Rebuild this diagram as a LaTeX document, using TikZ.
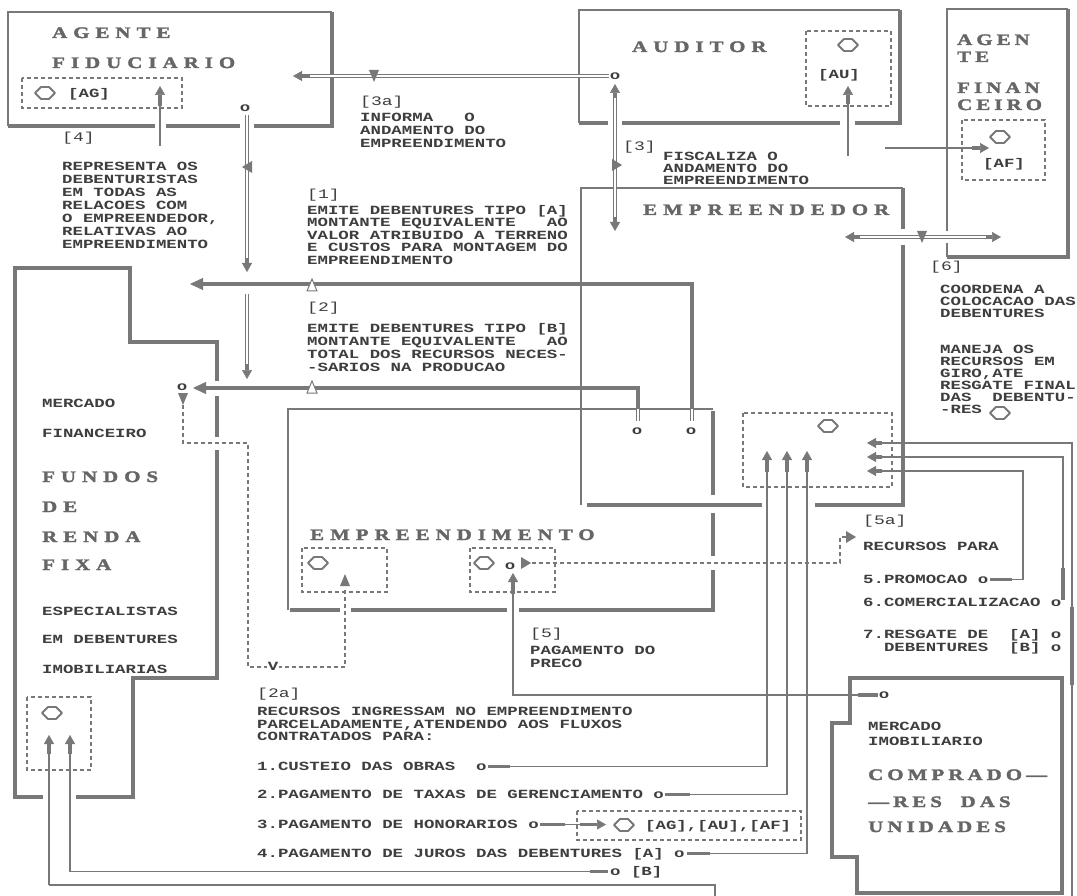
\documentclass[tikz,border=0pt]{standalone}
\usepackage{fontspec}
\usetikzlibrary{arrows.meta}
\newfontfamily\dosfam[FakeStretch=1.39]{Liberation Mono}
\newfontfamily\ttlfam[FakeStretch=1.3,LetterSpace=38,FakeBold=2.2]{Liberation Serif}
\newfontfamily\ttlnar[FakeStretch=1.3,LetterSpace=26,FakeBold=2.2]{Liberation Serif}
\definecolor{lc}{HTML}{787878}
\definecolor{tc}{HTML}{3E3E3E}
\definecolor{hc}{HTML}{666666}
\newcommand\dosb{\dosfam\bfseries\fontsize{12.5pt}{12.5pt}\selectfont}
\newcommand\dosk[1]{\dosfam\bfseries\fontsize{12.5pt}{#1}\selectfont}
\newcommand\dosr{\dosfam\fontsize{13pt}{13pt}\selectfont}
\newcommand\ttlf{\ttlfam\bfseries\fontsize{16pt}{16pt}\selectfont}
\newcommand\ttln{\ttlnar\bfseries\fontsize{16pt}{16pt}\selectfont}
\tikzset{
  dia/.pic={\draw[draw=lc,line width=1.9pt,line join=round] (-10,0)--(-4,-6)--(4,-6)--(10,0)--(4,6)--(-4,6)--cycle;},
  mdown/.pic={\fill[lc] (-5,-6)--(5,-6)--(0,6)--cycle;},
  mleft/.pic={\fill[lc] (-5,0)--(5,-6)--(5,6)--cycle;},
  mright/.pic={\fill[lc] (5,0)--(-5,-6)--(-5,6)--cycle;},
  mup/.pic={\fill[lc] (-5,6)--(5,6)--(0,-6)--cycle;},
  mhol/.pic={\filldraw[fill=white,draw=lc,line width=1pt] (-5,6)--(5,6)--(0,-6)--cycle;},
}
\begin{document}
\begin{tikzpicture}[x=1pt,y=-1pt,
  frame/.style={draw=lc,line width=1.6pt},
  heavy/.style={draw=lc,line width=4pt},
  wire/.style={draw=lc,line width=1.1pt},
  bar/.style={draw=lc,line width=4.5pt,-{Triangle[length=13pt,width=12pt,line width=0.5pt]}},
  dbl/.style={draw=lc,line width=1.4pt,double=white,double distance=1.6pt},
  dsh/.style={draw=lc,line width=1.1pt,dash pattern=on 4pt off 3pt},
  stub/.style={draw=lc,line width=3.5pt,-{Triangle[length=9pt,width=10pt,line width=0.5pt]}},
  stubn/.style={draw=lc,line width=3.5pt},
  txt/.style={font=\dosb,text=tc,inner sep=0pt,anchor=base west},
  lbl/.style={font=\dosr,text=tc,inner sep=0pt,anchor=base west},
  ttl/.style={font=\ttlf,text=hc,inner sep=0pt,anchor=base west},
  ttlnarrow/.style={font=\ttln,text=hc,inner sep=0pt,anchor=base west},
  blk/.style={font=\dosk{#1},text=tc,inner sep=0pt,anchor=north west,align=left},
  blk/.default=12.5pt,
  oknob/.style={font=\dosb,text=tc,inner sep=0pt,anchor=center},
]
\fill[white] (0,0) rectangle (1077,896);
\useasboundingbox (0,0) rectangle (1077,896);

%% AGENTE FIDUCIARIO
\draw[frame] (8,126)--(8,12)--(332,12);
\draw[heavy] (332,12)--(332,128);
\draw[heavy] (8,126)--(155,126) (166,126)--(240,126) (254,126)--(334,126);
\node[ttl] (tAG1) at (52,38) {AGENTE};
\node[ttl] (tAG2) at (52,68) {FIDUCIARIO};
\draw[dsh] (22,78) rectangle (182,108);
\pic at (45,93) {dia};
\node[txt] (lAG) at (68,98) {[AG]};

%% AUDITOR
\draw[frame] (579,123)--(579,10)--(900,10);
\draw[heavy] (900,10)--(900,125);
\draw[heavy] (579,123)--(608,123) (622,123)--(840,123) (855,123)--(902,123);
\node[ttl] (tAU) at (632,52) {AUDITOR};
\draw[dsh] (806,31) rectangle (891,106);
\pic at (848,45) {dia};
\node[txt] (lAU) at (818,79) {[AU]};

%% AGENTE FINANCEIRO
\draw[frame] (947,231)--(947,9)--(1068,9);
\draw[frame] (947,243)--(947,257);
\draw[heavy] (1068,9)--(1068,259);
\draw[heavy] (947,257)--(1070,257);
\node[ttlnarrow] (tAF1) at (957,45) {AGEN};
\node[ttlnarrow] (tAF2) at (957,62) {TE};
\node[ttlnarrow] (tAF3) at (957,93) {FINAN};
\node[ttlnarrow] (tAF4) at (957,110) {CEIRO};
\draw[dsh] (962,120) rectangle (1045,180);
\pic at (1000,137) {dia};
\node[txt] (lAF) at (983,168) {[AF]};

%% EMPREENDEDOR
\draw[frame] (581,505)--(581,188)--(903,188);
\draw[heavy] (903,188)--(903,229) (903,245)--(903,507);
\draw[heavy] (905,505)--(815,505) (762,505)--(587,505);
\node[ttl] (tED) at (643,215) {EMPREENDEDOR};
\draw[dsh] (743,413) rectangle (892,487);
\pic at (828,426) {dia};

%% EMPREENDIMENTO
\draw[frame] (288,610)--(288,409)--(713,409);
\draw[heavy] (713,411)--(713,495) (713,513)--(713,556) (713,570)--(713,612);
\draw[heavy] (290,610)--(340,610) (351,610)--(507,610) (519,610)--(715,610);
\node[ttl] (tEI) at (310,540) {EMPREENDIMENTO};
\draw[dsh] (302,548) rectangle (387,592);
\pic at (318,563) {dia};
\draw[dsh] (470,548) rectangle (555,592);
\pic at (484,563) {dia};
\node[oknob] (oEI) at (510,566) {o};
\pic at (526,563) {mright};

%% FUNDOS DE RENDA FIXA
\draw[heavy] (15,268)--(130,268)--(130,342)--(217,342)--(217,381);
\draw[heavy] (217,396)--(217,437);
\draw[heavy] (217,450)--(217,678)--(133,678)--(133,797)--(76,797);
\draw[heavy] (43,797)--(15,797)--(15,266);
\node[txt] (fMer) at (42,407) {MERCADO};
\node[txt] (fFin) at (42,437) {FINANCEIRO};
\node[ttl] (fT1) at (42,482) {FUNDOS};
\node[ttl] (fT2) at (42,512) {DE};
\node[ttl] (fT3) at (42,542) {RENDA};
\node[ttl] (fT4) at (42,570) {FIXA};
\node[txt] (fE1) at (42,615) {ESPECIALISTAS};
\node[txt] (fE2) at (42,643) {EM DEBENTURES};
\node[txt] (fE3) at (42,673) {IMOBILIARIAS};
\draw[dsh] (27,697) rectangle (91,770);
\pic at (52,713) {dia};

%% COMPRADORES
\draw[heavy] (850,678)--(1062,678)--(1062,893)--(857,893)--(857,857)--(832,857)--(832,723)--(850,723)--cycle;
\node[txt] (cM1) at (868,730) {MERCADO};
\node[txt] (cM2) at (868,745) {IMOBILIARIO};
\node[ttlnarrow] (cT1) at (868,780) {COMPRADO—};
\node[ttlnarrow] (cT2) at (868,807) {—RES~~DAS};
\node[ttlnarrow] (cT3) at (868,832) {UNIDADES};

%% labels and text blocks
\node[lbl] (n4) at (62,142) {[4]};
\node[blk=13pt] (b4) at (62,162) {REPRESENTA OS\\DEBENTURISTAS\\EM TODAS AS\\RELACOES COM\\O EMPREENDEDOR,\\RELATIVAS AO\\EMPREENDIMENTO};
\node[lbl] (n3a) at (360,106) {[3a]};
\node[blk=13pt] (b3a) at (360,113) {INFORMA~~~O\\ANDAMENTO DO\\EMPREENDIMENTO};
\node[lbl] (n3) at (623,151) {[3]};
\node[blk=12pt] (b3) at (663,152) {FISCALIZA O\\ANDAMENTO DO\\EMPREENDIMENTO};
\node[lbl] (n1) at (307,199) {[1]};
\node[blk=12.5pt] (b1) at (307,205) {EMITE DEBENTURES TIPO [A]\\MONTANTE EQUIVALENTE~~~AO\\VALOR ATRIBUIDO A TERRENO\\E CUSTOS PARA MONTAGEM DO\\EMPREENDIMENTO};
\node[lbl] (n2) at (307,312) {[2]};
\node[blk=13pt] (b2) at (307,323) {EMITE DEBENTURES TIPO [B]\\MONTANTE EQUIVALENTE~~~AO\\TOTAL DOS RECURSOS NECES-\\-SARIOS NA PRODUCAO};
\node[lbl] (n6) at (930,271) {[6]};
\node[blk=12pt] (b6) at (940,285) {COORDENA A\\COLOCACAO DAS\\DEBENTURES\\[24pt]MANEJA OS\\RECURSOS EM\\GIRO,ATE\\RESGATE FINAL\\DAS~~DEBENTU-\\-RES};
\pic at (1000,413) {dia};
\node[lbl] (n5a) at (863,524) {[5a]};
\node[txt] (r0) at (863,550) {RECURSOS PARA};
\node[txt] (r5) at (863,583) {5.PROMOCAO o};
\node[txt] (r6) at (863,606) {6.COMERCIALIZACAO o};
\node[blk=13pt] (r7) at (863,629) {7.RESGATE DE~~[A] o\\~~DEBENTURES~~[B] o};
\node[lbl] (n5) at (530,637) {[5]};
\node[blk=13pt] (b5) at (530,646) {PAGAMENTO DO\\PRECO};
\node[lbl] (n2a) at (257,697) {[2a]};
\node[blk=12.5pt] (b2a) at (257,707) {RECURSOS INGRESSAM NO EMPREENDIMENTO\\PARCELADAMENTE,ATENDENDO AOS FLUXOS\\CONTRATADOS PARA:};
\node[txt] (i1) at (257,770) {1.CUSTEIO DAS OBRAS~~o};
\node[txt] (i2) at (257,798) {2.PAGAMENTO DE TAXAS DE GERENCIAMENTO o};
\node[txt] (i3) at (257,828) {3.PAGAMENTO DE HONORARIOS o};
\node[txt] (i4) at (257,857) {4.PAGAMENTO DE JUROS DAS DEBENTURES [A] o};
\node[txt] (iB) at (610,875) {o [B]};

%% [4]
\draw[wire] (160,146)--(160,104);
\draw[stub] (160,106)--(160,86);
%% fiduciario to fundos
\node[oknob] (oAG) at (245,108) {o};
\draw[dbl] (247,115)--(247,262);
\draw[stub] (247,258)--(247,272);
\draw[dbl] (247,294)--(247,368);
\draw[stub] (247,364)--(247,379);
\pic at (247,167) {mleft};
%% [3a]
\node[oknob] (oAU) at (615,76) {o};
\draw[dbl] (609,76)--(304,76);
\draw[stub] (310,76)--(293,76);
\pic at (374,76) {mdown};
%% [3]
\draw[dbl] (615,96)--(615,220);
\draw[stub] (615,98)--(615,84);
\draw[stub] (615,217)--(615,231);
\pic at (617,165) {mright};
%% auditor / financeiro arrows
\draw[wire] (848,156)--(848,102);
\draw[stub] (848,104)--(848,86);
\draw[wire] (885,148)--(975,148);
\draw[stub] (972,148)--(989,148);
%% [6]
\draw[dbl] (856,237)--(990,237);
\draw[stub] (860,237)--(845,237);
\draw[stub] (986,237)--(1001,237);
\pic at (922,237) {mdown};
%% [1] and [2]
\draw[bar] (692,409)--(692,284)--(190,284);
\draw[dbl] (692,409)--(692,421);
\node[oknob] (o1) at (691,431) {o};
\pic at (312,285) {mhol};
\draw[bar] (638,409)--(638,388)--(193,388);
\draw[dbl] (638,409)--(638,421);
\node[oknob] (o2) at (637,431) {o};
\pic at (312,387) {mhol};
\node[oknob] (oMF) at (182,387) {o};
%% [2a] dashed
\pic at (183,399) {mdown};
\draw[dsh] (183,405)--(183,443)--(248,443)--(248,667)--(345,667)--(345,588);
\pic at (345,580) {mup};
\node[font=\dosb,text=tc,fill=white,inner sep=1pt] (vV) at (273,666) {V};
%% [5a] dashed
\draw[dsh] (532,563)--(840,563)--(840,537)--(846,537);
\pic at (851,537) {mright};
%% [5]
\node[oknob] (oCP) at (884,695) {o};
\draw[stubn] (858,695)--(878,695);
\draw[wire] (859,695)--(513,695)--(513,592);
\draw[stub] (513,594)--(513,573);
%% flows up into empreendedor
\draw[stubn] (488,766.5)--(510,766.5);
\draw[wire] (510,766.5)--(767,766.5)--(767,470);
\draw[stub] (767,472)--(767,451);
\draw[stubn] (665,794.5)--(690,794.5);
\draw[wire] (690,794.5)--(787,794.5)--(787,470);
\draw[stub] (787,472)--(787,451);
\draw[stubn] (687,853.5)--(710,853.5);
\draw[wire] (710,853.5)--(807,853.5)--(807,470);
\draw[stub] (807,472)--(807,451);
%% honorarios
\draw[stubn] (540,824.5)--(565,824.5);
\draw[wire] (565,824.5)--(582,824.5);
\draw[stub] (580,824.5)--(606,824.5);
\draw[dsh] (577,811) rectangle (801,840);
\pic at (624,825) {dia};
\node[txt] (lHon) at (645,829.5) {[AG],[AU],[AF]};
%% [B] and bottom line
\draw[wire] (70,871.5)--(592,871.5);
\draw[stubn] (590,871.5)--(608,871.5);
\draw[wire] (70,871.5)--(70,752);
\draw[stub] (70,754)--(70,735);
\draw[wire] (49,885)--(715,885)--(715,896);
\draw[wire] (49,885)--(49,752);
\draw[stub] (49,754)--(49,735);
%% right side returns
\draw[wire] (880,443)--(1072,443)--(1072,896);
\draw[stub] (882,443)--(867,443);
\draw[stubn] (1072,607)--(1072,685);
\draw[wire] (880,457)--(1063,457)--(1063,570);
\draw[stub] (882,457)--(867,457);
\draw[stubn] (1063,568)--(1063,600);
\draw[wire] (880,471)--(1023,471)--(1023,579.5)--(1010,579.5);
\draw[stub] (882,471)--(867,471);
\draw[stubn] (990,579.5)--(1012,579.5);
\end{tikzpicture}
\end{document}
